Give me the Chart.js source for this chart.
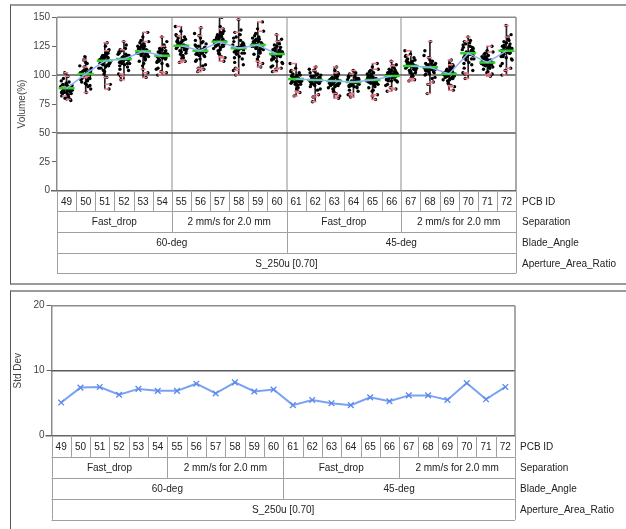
<!DOCTYPE html>
<html><head><meta charset="utf-8">
<script src="https://cdn.jsdelivr.net/npm/chart.js@4.4.1/dist/chart.umd.min.js"></script>
<style>
html,body{margin:0;padding:0;background:#fff;width:626px;height:529px;overflow:hidden;}
.panel{position:absolute;box-sizing:border-box;}
#p1{left:10px;top:4px;width:640px;height:281px;border-top:2px solid #9a9a9a;border-bottom:2px solid #9a9a9a;border-left:1px solid #555;}
#p2{left:10px;top:290px;width:640px;height:260px;border-top:2px solid #9a9a9a;border-left:1px solid #555;}
canvas{position:absolute;left:0;}
#c1{top:0}
#c2{top:290px}
</style></head><body>
<div class="panel" id="p1"></div><div class="panel" id="p2"></div>
<canvas id="c1" width="626" height="287"></canvas>
<canvas id="c2" width="626" height="239"></canvas>
<script>
// ---- categories / labels ----
const pcbIds = ['49','50','51','52','53','54','55','56','57','58','59','60','61','62','63','64','65','66','67','68','69','70','71','72'];
const separationLabels = ['Fast_drop','2 mm/s for 2.0 mm','Fast_drop','2 mm/s for 2.0 mm'];
const bladeAngleLabels = ['60-deg','45-deg'];
const apertureLabels = ['S_250u [0.70]'];
const rowNames = ['PCB ID','Separation','Blade_Angle','Aperture_Area_Ratio'];
const volumeTicks = [0,25,50,75,100,125,150];
const stdTicks = [0,10,20];

// ---- Volume(%) readings per PCB ----
const pcb49 = [88,92,84,90,86,95,81,89,87,93,79,91,85,88,97,83,90,86,102,78,89,94,82,87,91,85,99,84,88,80, 87,90,86,89,91,85,88,92,89,87,90,86];
const pcb50 = [100,106,93,103,97,111,88,101,95,108,99,104,91,116,102,96,85,105,98,110,94,100,107,90,103,97,113,92,101,99, 99,103,98,102,100,105,97,101,104,99,102,96];
const pcb51 = [112,118,106,115,109,122,101,113,110,125,92,116,108,114,119,104,128,111,88,117,107,113,121,103,110,115,98,112,120,106, 111,114,109,113,116,110,112,115,108,113,117,111];
const pcb52 = [114,119,109,116,111,123,105,115,112,126,99,117,110,114,120,107,129,113,96,118,108,115,122,104,112,116,101,114,121,110, 113,116,111,115,117,112,114,118,110,115,113,116];
const pcb53 = [120,126,114,122,117,130,110,121,118,133,102,124,115,120,127,112,137,119,98,125,113,121,129,108,118,123,105,120,128,116, 119,122,117,121,124,118,120,123,116,121,125,119];
const pcb54 = [116,121,110,118,113,126,106,117,114,129,103,120,111,116,123,108,133,115,100,122,109,117,125,105,114,119,102,116,124,112, 115,118,113,117,120,114,116,119,112,117,121,115];
const pcb55 = [125,130,119,127,122,135,115,126,123,138,112,129,120,125,132,117,142,124,111,131,118,126,134,114,123,128,113,125,133,121, 124,127,122,126,129,123,125,128,121,126,130,124];
const pcb56 = [121,127,114,123,118,132,109,122,119,136,105,125,116,121,129,112,141,120,103,128,113,122,134,108,119,124,106,121,130,117, 120,123,118,122,125,119,121,124,117,122,126,120];
const pcb57 = [129,134,123,131,126,138,119,130,127,142,115,133,124,129,136,121,150,128,112,135,122,130,140,118,127,132,116,129,137,125, 128,131,126,130,133,127,129,132,125,130,134,128];
const pcb58 = [123,129,116,125,120,135,111,124,121,139,106,127,118,123,132,114,148,122,100,130,115,124,137,109,121,126,104,123,133,119, 122,125,120,124,127,121,123,126,119,124,128,122];
const pcb59 = [126,131,120,128,123,136,116,127,124,140,110,130,121,126,133,118,146,125,107,132,119,127,138,114,124,129,112,126,134,122, 125,128,123,127,130,124,126,129,122,127,131,125];
const pcb60 = [118,124,112,120,115,128,108,119,116,131,105,122,113,118,126,110,135,117,103,125,111,119,129,107,116,121,106,118,127,114, 117,120,115,119,122,116,118,121,114,119,123,117];
const pcb61 = [96,100,92,98,94,103,89,97,95,106,85,99,93,96,101,91,110,95,82,100,92,97,104,88,95,98,86,96,102,94, 95,98,94,97,99,93,96,98,95,97,100,94];
const pcb62 = [96,100,91,98,94,103,88,97,95,105,83,99,93,96,101,90,107,95,77,100,92,97,104,87,95,98,81,96,102,93, 95,97,93,96,99,94,96,98,92,97,95,94];
const pcb63 = [94,98,89,96,92,101,86,95,93,104,82,97,91,94,99,88,107,93,80,98,90,95,102,85,93,96,84,94,100,91, 94,96,92,95,98,93,95,97,91,96,94,93];
const pcb64 = [94,98,90,96,92,100,87,95,93,102,84,97,91,94,99,89,104,93,81,98,90,95,101,86,93,96,83,94,100,92, 93,95,91,94,97,92,94,96,90,95,93,92];
const pcb65 = [96,101,90,98,93,104,87,97,94,107,83,100,92,96,102,89,110,95,79,101,91,97,105,86,94,99,82,96,103,93, 95,97,93,96,99,94,96,98,92,97,95,94];
const pcb66 = [100,104,95,102,98,107,92,101,99,109,89,103,96,100,105,94,112,99,86,104,95,101,108,91,99,102,88,100,106,97, 98,101,97,99,102,96,100,101,95,99,103,98];
const pcb67 = [108,113,102,110,105,116,99,109,106,118,96,112,103,108,114,101,121,107,95,113,102,109,117,98,106,111,97,108,115,104, 107,110,105,108,111,106,108,110,104,109,112,107];
const pcb68 = [106,110,101,108,104,113,98,107,105,117,94,109,102,106,112,100,129,105,84,110,101,107,115,97,105,108,92,106,121,103, 106,108,104,107,110,105,107,109,103,108,106,105];
const pcb69 = [101,105,96,103,99,108,93,102,100,110,90,104,97,101,106,95,113,100,87,105,96,102,109,92,100,103,91,101,107,98, 100,103,98,101,104,99,101,103,97,102,100,99];
const pcb70 = [118,124,111,120,115,128,106,119,116,130,101,122,113,118,126,109,133,117,97,125,110,119,129,104,116,121,102,118,127,114, 118,121,115,119,123,117,119,122,114,120,124,118];
const pcb71 = [111,116,106,113,109,119,103,112,110,121,101,115,107,111,117,105,125,110,99,116,106,112,120,102,110,114,100,111,118,108, 110,113,108,111,114,109,111,113,107,112,110,109];
const pcb72 = [121,127,115,123,118,131,110,122,119,135,104,125,116,121,129,113,143,120,100,128,114,122,133,108,119,124,106,121,130,117, 120,123,118,122,125,119,121,124,116,122,126,120];
const volumeSets = [pcb49,pcb50,pcb51,pcb52,pcb53,pcb54,pcb55,pcb56,pcb57,pcb58,pcb59,pcb60,
                    pcb61,pcb62,pcb63,pcb64,pcb65,pcb66,pcb67,pcb68,pcb69,pcb70,pcb71,pcb72];

// ---- cell means (green bars / blue line) and std dev ----
const cellMeans = [88.6,101,112.5,114,120.6,116.8,125.4,121.1,128.9,123.2,126,118.3,96.6,95.8,94.9,94,95.8,99.2,107.9,106.7,101,118.8,111,121];
const stdDevs = [5.1,7.4,7.5,6.3,7.2,6.9,6.9,8.0,6.5,8.2,6.8,7.1,4.7,5.5,5.0,4.7,5.9,5.3,6.2,6.2,5.5,8.1,5.6,7.5];

// ---- presentation helpers (positions only) ----
const jitter = [0.05,-0.18,0.22,-0.06,0.14,-0.25,0.1,-0.12,0.27,-0.02,0.18,-0.21,0.0,0.24,-0.15,0.08,-0.28,0.16,-0.09,0.2,-0.04,0.12,-0.23,0.03,0.26,-0.13,0.07,-0.19,0.15,-0.07,
                0.11,-0.16,0.2,-0.1,0.03,-0.24,0.17,-0.01,0.23,-0.14,0.09,-0.2];
const pinkIdx = [10,16,18,26,22];
const FONT = 'Liberation Sans';
Chart.defaults.font.family = FONT;

const blackPts=[], pinkPts=[], whisk=[], meanPts=[], linkPts=[];
volumeSets.forEach((vals,c)=>{
  vals.forEach((v,k)=>{
    const j = jitter[(k+c*7)%jitter.length];
    if (pinkIdx.includes(k)) pinkPts.push({x:c+j*0.5,y:v});
    blackPts.push({x:c+j*1.1,y:v});
  });
  whisk.push({x:c,y:[Math.min(...vals),Math.max(...vals)]});
  meanPts.push({x:c,y:cellMeans[c]});
  linkPts.push({x:c,y:cellMeans[c]});
  if (c%6===5 && c<volumeSets.length-1) linkPts.push({x:c+0.5,y:null});
});

function line(ctx,x1,y1,x2,y2){ctx.beginPath();ctx.moveTo(x1,y1);ctx.lineTo(x2,y2);ctx.stroke();}

function tablePlugin(rowH, labelGap, separators, gridVals){
  return {
    id:'tbl',
    beforeDatasetsDraw(chart){
      const ctx=chart.ctx, xs=chart.scales.x, ys=chart.scales.y, a=chart.chartArea;
      ctx.save();
      if (separators){
        ctx.strokeStyle='#c6c6c6'; ctx.lineWidth=2;
        [5.5,11.5,17.5].forEach(v=>{const x=Math.round(xs.getPixelForValue(v)); line(ctx,x,a.top,x,a.bottom);});
      }
      ctx.strokeStyle='#5a5a5a'; ctx.lineWidth=1.5;
      gridVals.forEach(v=>{const y=ys.getPixelForValue(v); line(ctx,a.left,y,a.right,y);});
      ctx.restore();
    },
    afterDraw(chart){
      const ctx=chart.ctx, xs=chart.scales.x, a=chart.chartArea;
      const groups=[pcbIds,separationLabels,bladeAngleLabels,apertureLabels];
      const n=pcbIds.length;
      ctx.save();
      ctx.strokeStyle='#8c8c8c'; ctx.lineWidth=1.5;
      line(ctx,a.left,a.top,a.right,a.top);
      line(ctx,a.right,a.top,a.right,a.bottom);
      ctx.strokeStyle='#666'; ctx.lineWidth=1.5;
      line(ctx,a.left-6,a.bottom,a.right,a.bottom);
      ctx.strokeStyle='#a0a0a0'; ctx.lineWidth=1;
      ctx.font='10px "'+FONT+'"'; ctx.textBaseline='middle'; ctx.fillStyle='#222';
      groups.forEach((cells,ri)=>{
        const y0=a.bottom+ri*rowH, y1=y0+rowH, span=n/cells.length;
        line(ctx,a.left,Math.round(y1)+0.5,a.right,Math.round(y1)+0.5);
        ctx.textAlign='center';
        cells.forEach((lab,k)=>{
          const xl=xs.getPixelForValue(k*span-0.5), xr=xs.getPixelForValue((k+1)*span-0.5);
          line(ctx,Math.round(xl)+0.5,y0,Math.round(xl)+0.5,y1);
          line(ctx,Math.round(xr)+0.5,y0,Math.round(xr)+0.5,y1);
          ctx.fillText(lab,(xl+xr)/2,(y0+y1)/2+1);
        });
        ctx.textAlign='left';
        ctx.fillText(rowNames[ri],a.right+labelGap,(y0+y1)/2+1);
      });
      ctx.restore();
    }
  };
}

function yAxis(min,max,step,title,width,ticks){
  return {
    min:min,max:max,
    afterBuildTicks:s=>{s.ticks=ticks.map(v=>({value:v}));},
    ticks:{stepSize:step,color:'#444',font:{size:10},padding:2},
    grid:{color:'rgba(0,0,0,0)',tickColor:'#666',tickLength:5,drawTicks:true},
    border:{display:true,color:'#8c8c8c',width:1.5},
    title:{display:true,text:title,color:'#444',font:{size:10},padding:{top:0,bottom:4}},
    afterFit:s=>{s.width=width;}
  };
}

new Chart(document.getElementById('c1'),{
  type:'scatter',
  data:{datasets:[
    {type:'line',data:linkPts,borderColor:'#8fb2f4',borderWidth:1.5,pointRadius:0,spanGaps:false,order:0},
    {data:meanPts,pointStyle:'line',pointRadius:8,borderColor:'#2fcf2f',pointBorderWidth:2.5,backgroundColor:'#2fcf2f',order:1},
    {data:pinkPts,pointStyle:'line',pointRadius:2.5,borderColor:'#f0788a',pointBorderWidth:1.5,order:2},
    {data:blackPts,pointStyle:'circle',pointRadius:1.7,backgroundColor:'#000',borderWidth:0,order:3},
    {type:'bar',data:whisk,backgroundColor:'#222',barThickness:1,order:4}
  ]},
  options:{
    responsive:false,animation:false,devicePixelRatio:1,
    layout:{padding:{left:16,top:17.3,right:110,bottom:96.3}},
    plugins:{legend:{display:false},tooltip:{enabled:false}},
    scales:{
      x:{type:'linear',min:-0.5,max:23.5,display:false,offset:false,grid:{offset:false}},
      y:yAxis(0,150,25,'Volume(%)',41,volumeTicks)
    }
  },
  plugins:[tablePlugin(20.67,6,true,[50,100])]
});

new Chart(document.getElementById('c2'),{
  type:'line',
  data:{datasets:[
    {data:stdDevs.map((v,i)=>({x:i,y:v})),borderColor:'#7aa2f2',borderWidth:2,pointStyle:'crossRot',pointRadius:4,pointBorderWidth:1.3,pointBorderColor:'#5a88ea',fill:false,tension:0}
  ]},
  options:{
    responsive:false,animation:false,devicePixelRatio:1,
    layout:{padding:{left:12,top:15.7,right:111,bottom:93.3}},
    plugins:{legend:{display:false},tooltip:{enabled:false}},
    scales:{
      x:{type:'linear',min:-0.5,max:23.5,display:false},
      y:yAxis(0,20,10,'Std Dev',39.5,stdTicks)
    }
  },
  plugins:[tablePlugin(21,5,false,[10])]
});
</script>
</body></html>
